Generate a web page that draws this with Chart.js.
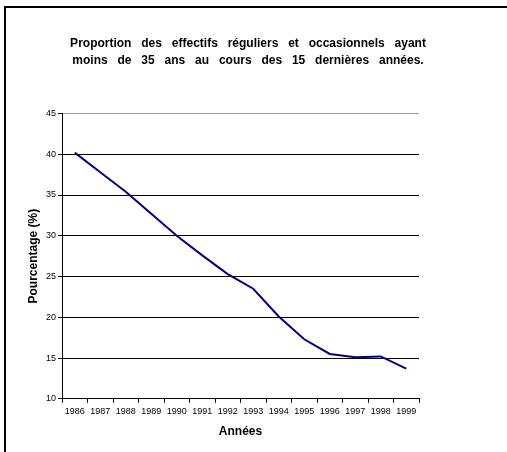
<!DOCTYPE html>
<html>
<head>
<meta charset="utf-8">
<script src="https://cdn.jsdelivr.net/npm/chart.js@4/dist/chart.umd.min.js"></script>
<style>
  html, body { margin: 0; padding: 0; background: #fff; }
  #wrap { position: relative; width: 507px; height: 452px; }
  #frame { position: absolute; left: 4px; top: 6px; right: 0; bottom: 0;
           border-left: 2px solid #000; border-top: 2px solid #000; }
  canvas { position: absolute; left: 0; top: 0; }
</style>
</head>
<body>
<div id="wrap">
  <div id="frame"></div>
  <canvas id="c" width="507" height="452"></canvas>
</div>
<script>
const years = ['1986','1987','1988','1989','1990','1991','1992','1993','1994','1995','1996','1997','1998','1999'];
const percentages = [40.2, 37.8, 35.4, 32.7, 30.0, 27.6, 25.3, 23.5, 20.1, 17.3, 15.5, 15.1, 15.2, 13.7];
const titleLines = ['Proportion des effectifs réguliers et occasionnels ayant', 'moins de 35 ans au cours des 15 dernières années.'];
const yTitle = 'Pourcentage (%)';
const xTitle = 'Années';

const FONT = 'Liberation Sans, Arial, sans-serif';

const titleSpacing = {
  id: 'titleSpacing',
  beforeDraw(chart) {
    const tb = chart.titleBlock;
    if (tb && !tb._wrapped) {
      const orig = tb.draw.bind(tb);
      tb.draw = function () {
        const ctx = chart.ctx;
        const prev = ctx.wordSpacing;
        ctx.wordSpacing = '6.5px';
        orig();
        ctx.wordSpacing = prev || '0px';
      };
      tb._wrapped = true;
    }
  }
};

new Chart(document.getElementById('c'), {
  type: 'line',
  data: {
    labels: years,
    datasets: [{
      data: percentages,
      borderColor: '#000080',
      borderWidth: 2,
      pointRadius: 0,
      tension: 0,
      fill: false
    }]
  },
  plugins: [titleSpacing],
  options: {
    responsive: false,
    animation: false,
    layout: { padding: { left: 0, right: 11, top: 0, bottom: 13 } },
    plugins: {
      legend: { display: false },
      tooltip: { enabled: false },
      title: {
        display: true,
        text: titleLines,
        color: '#000',
        font: { family: FONT, size: 12, weight: 'bold', lineHeight: 1.45 },
        padding: { top: 35, bottom: 43.7 }
      }
    },
    scales: {
      x: {
        type: 'category',
        offset: true,
        grid: { display: true, drawOnChartArea: false, drawTicks: true, tickLength: 4, color: '#000', offset: true },
        border: { display: true, color: '#000', width: 1 },
        ticks: { color: '#000', font: { family: FONT, size: 9 }, padding: 3, maxRotation: 0, autoSkip: false },
        title: { display: true, text: xTitle, color: '#000', font: { family: FONT, size: 12, weight: 'bold' }, padding: { top: 5, bottom: 0 } }
      },
      y: {
        min: 10, max: 45,
        ticks: { stepSize: 5, color: '#000', font: { family: FONT, size: 9 }, padding: 2 },
        grid: {
          color: (ctx) => (ctx.tick && ctx.tick.value === 45) ? '#a0a0a0' : '#000',
          tickColor: '#000',
          tickLength: 4,
          lineWidth: 1
        },
        border: { display: true, color: '#000', width: 1 },
        title: { display: true, text: yTitle, color: '#000', font: { family: FONT, size: 12, weight: 'bold' }, padding: { top: 26, bottom: 0 } },
        afterFit: (s) => { s.width = 62; }
      },
      pad: {
        type: 'linear',
        position: 'right',
        display: true,
        ticks: { display: false },
        grid: { display: false, drawOnChartArea: false, drawTicks: false },
        border: { display: false },
        afterFit: (s) => { s.width = 77; }
      }
    }
  }
});
</script>
</body>
</html>
